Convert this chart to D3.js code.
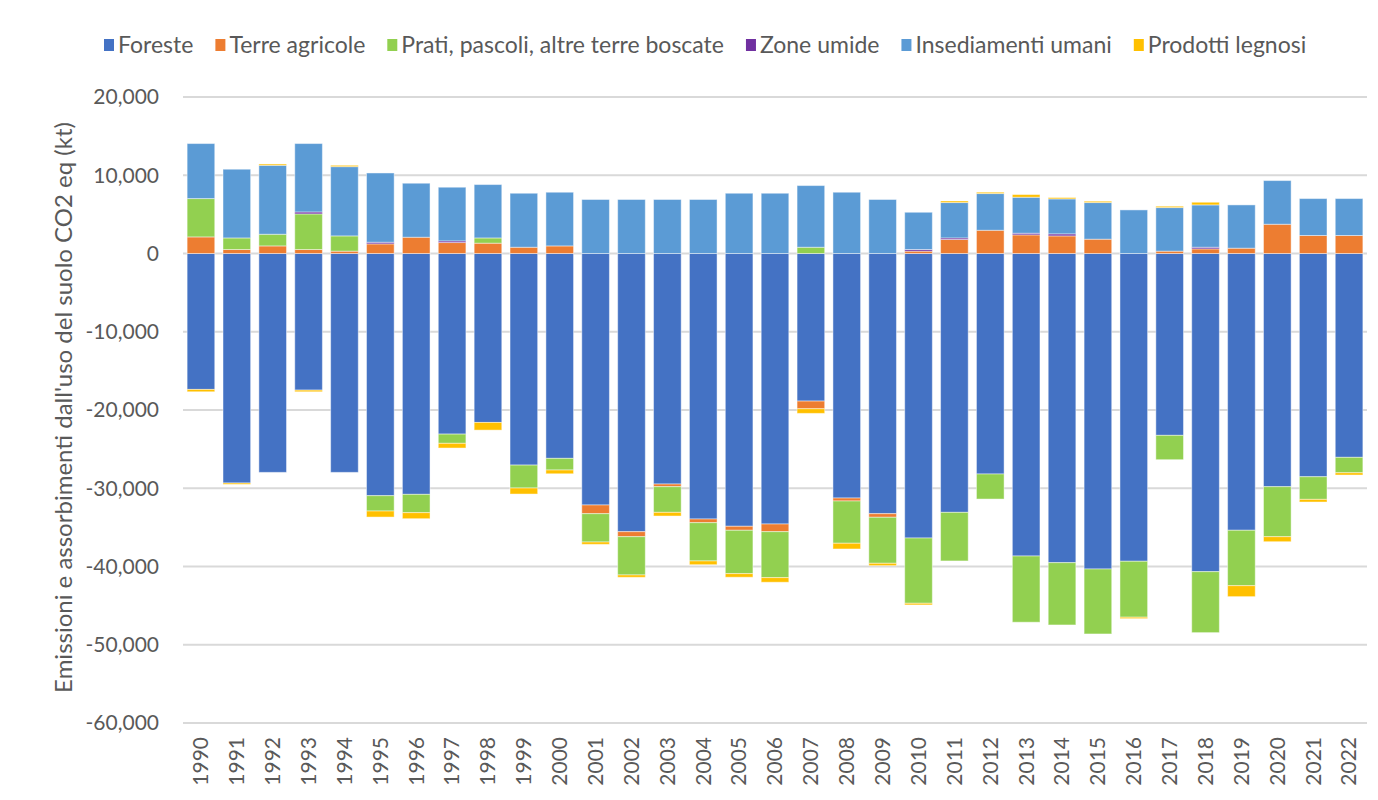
<!DOCTYPE html>
<html>
<head>
<meta charset="utf-8">
<script src="https://cdn.jsdelivr.net/npm/d3@7"></script>
<style>
  body { margin: 0; background: #fff; }
  svg { display: block; font-family: Lato, "Open Sans", sans-serif; }
</style>
</head>
<body>
<div id="chart"></div>
<script>
const years = d3.range(1990, 2023).map(String);

const seriesNames = ['Foreste', 'Terre agricole', 'Prati, pascoli, altre terre boscate',
  'Zone umide', 'Insediamenti umani', 'Prodotti legnosi'];
const seriesColors = ['#4472C4', '#ED7D31', '#92D050', '#7030A0', '#5B9BD5', '#FFC000'];

const foreste = [-17370, -29330, -27970, -17460, -27970, -30950, -30780, -23080, -21590, -27040,
  -26180, -32140, -35550, -29460, -33930, -34860, -34570, -18860, -31250, -33250,
  -36360, -33080, -28180, -38660, -39510, -40320, -39330, -23240, -40660, -35370,
  -29800, -28530, -26050];
const terreAgricole = [2120, 510, 970, 510, 300, 1230, 2080, 1400, 1320, 800,
  970, -1110, -640, -340, -470, -510, -980, -980, -380, -460,
  300, 1790, 2970, 2380, 2250, 1830, 0, 300, 590, 680,
  3740, 2300, 2300];
const prati = [4900, 1480, 1490, 4550, 1950, -1960, -2340, -1180, 670, -2930,
  -1490, -3620, -4890, -3280, -4890, -5540, -5870, 800, -5400, -5880,
  -8340, -6210, -3200, -8460, -7960, -8300, -7150, -3110, -7790, -7080,
  -6390, -2890, -1970];
const zoneUmide = [0, 0, 0, 250, 0, 210, 0, 210, 0, 0,
  0, 0, 0, 0, 0, 0, 0, 0, 0, 0,
  210, 200, 0, 210, 260, 0, 0, 0, 210, 0,
  0, 0, 0];
const insediamenti = [7030, 8780, 8810, 8740, 8850, 8850, 6900, 6860, 6820, 6900,
  6860, 6900, 6900, 6900, 6900, 7700, 7700, 7880, 7830, 6900,
  4760, 4520, 4690, 4600, 4470, 4680, 5570, 5570, 5410, 5530,
  5580, 4720, 4720];
const prodottiLegnosi = [-300, -170, 170, -210, 170, -770, -770, -600, -980, -770,
  -480, -300, -300, -470, -480, -460, -590, -590, -730, -300,
  -210, 200, 170, 340, 170, 170, -180, 170, 340, -1400,
  -640, -340, -290];

const yTicks = [20000, 10000, 0, -10000, -20000, -30000, -40000, -50000, -60000];
const yTitle = "Emissioni e assorbimenti dall'uso del suolo CO2 eq (kt)";

const allSeries = [foreste, terreAgricole, prati, zoneUmide, insediamenti, prodottiLegnosi];
const table = years.map((y, i) => {
  const row = { year: y };
  seriesNames.forEach((k, j) => row[k] = allSeries[j][i]);
  return row;
});

const width = 1378, height = 800;
const margin = { top: 97, right: 11, bottom: 77, left: 183 };
const textColor = '#595959';
const fmt = d3.formatLocale({ decimal: '.', thousands: ',', grouping: [3], currency: ['', ''], minus: '-' }).format(',');

const x = d3.scaleBand()
  .domain(years)
  .range([margin.left, width - margin.right])
  .paddingInner(0.23)
  .paddingOuter(0.115);
const y = d3.scaleLinear()
  .domain([-60000, 20000])
  .range([height - margin.bottom, margin.top]);

const stacked = d3.stack()
  .keys(seriesNames)
  .offset(d3.stackOffsetDiverging)(table);

const svg = d3.select('#chart').append('svg')
  .attr('width', width)
  .attr('height', height)
  .attr('viewBox', [0, 0, width, height]);

// gridlines
svg.append('g')
  .selectAll('line')
  .data(yTicks)
  .join('line')
  .attr('x1', margin.left)
  .attr('x2', width - margin.right)
  .attr('y1', d => y(d))
  .attr('y2', d => y(d))
  .attr('stroke', '#D9D9D9')
  .attr('stroke-width', 2);

// y labels
svg.append('g')
  .selectAll('text')
  .data(yTicks)
  .join('text')
  .attr('x', margin.left - 24)
  .attr('y', d => y(d))
  .attr('dy', '0.35em')
  .attr('text-anchor', 'end')
  .attr('fill', textColor)
  .style('font-size', '21px')
  .text(d => fmt(d));

// bars
svg.append('g')
  .selectAll('g')
  .data(stacked)
  .join('g')
  .attr('fill', (d, i) => seriesColors[i])
  .selectAll('rect')
  .data(d => d.filter(p => p[1] !== p[0]))
  .join('rect')
  .attr('x', d => x(d.data.year))
  .attr('width', x.bandwidth())
  .attr('y', d => y(d[1]))
  .attr('height', d => y(d[0]) - y(d[1]))
  .attr('stroke', '#fff')
  .attr('stroke-opacity', 0.45)
  .attr('stroke-width', 1);

// x labels
svg.append('g')
  .selectAll('text')
  .data(years)
  .join('text')
  .attr('transform', d => `translate(${x(d) + x.bandwidth() / 2},${height - margin.bottom + 14}) rotate(-90)`)
  .attr('dy', '0.35em')
  .attr('text-anchor', 'end')
  .attr('fill', textColor)
  .style('font-size', '21px')
  .text(d => d);

// y title
svg.append('text')
  .attr('transform', `translate(64,${(113 + 702) / 2}) rotate(-90)`)
  .attr('dy', '0.35em')
  .attr('text-anchor', 'middle')
  .attr('fill', textColor)
  .style('font-size', '24px')
  .text(yTitle);

// legend
const legend = svg.append('g').attr('transform', 'translate(104,45)');
let lx = 0;
seriesNames.forEach((name, i) => {
  const g = legend.append('g').attr('transform', `translate(${lx},0)`);
  g.append('rect')
    .attr('x', 0).attr('y', -6)
    .attr('width', 10).attr('height', 12)
    .attr('fill', seriesColors[i]);
  const t = g.append('text')
    .attr('x', 14)
    .attr('dy', '0.35em')
    .attr('fill', textColor)
    .style('font-size', '23px')
    .text(name);
  lx += 14 + t.node().getComputedTextLength() + 22;
});
</script>
</body>
</html>
